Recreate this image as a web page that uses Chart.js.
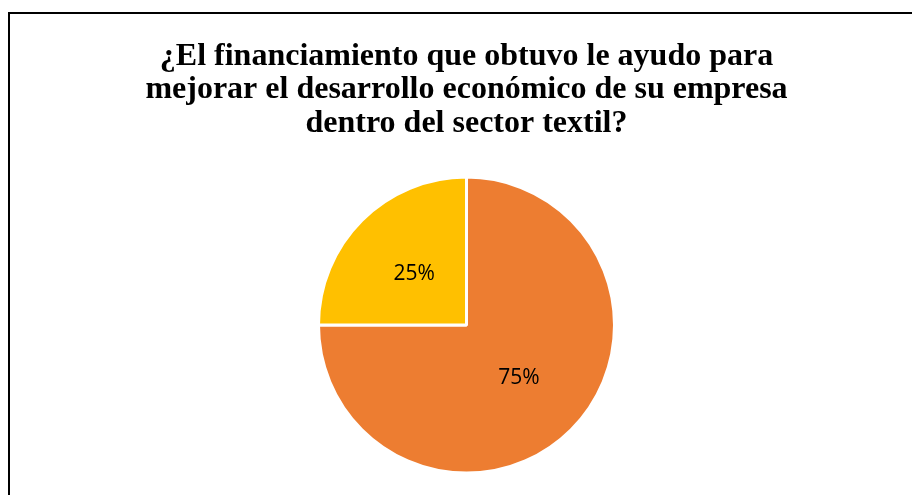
<!DOCTYPE html>
<html>
<head>
<meta charset="utf-8">
<script src="https://cdn.jsdelivr.net/npm/chart.js@4/dist/chart.umd.min.js"></script>
<style>
  html, body { margin: 0; padding: 0; background: #fff; overflow: hidden; }
  #wrap { position: relative; width: 912px; height: 495px; }
  #frame { position: absolute; left: 8px; top: 12px; width: 1000px; height: 600px;
           border-left: 2px solid #000; border-top: 2px solid #000; box-sizing: border-box; pointer-events: none; }
  canvas { position: absolute; left: 0; top: 0; }
</style>
</head>
<body>
<div id="wrap">
  <canvas id="c" width="912" height="495"></canvas>
  <div id="frame"></div>
</div>
<script>
const titleLines = [
  "¿El financiamiento que obtuvo le ayudo para",
  "mejorar el desarrollo económico de su empresa",
  "dentro del sector textil?"
];
const categories = ["Sí", "No"];
const values = [75, 25];
const colors = ["#ED7D31", "#FFC000"];

const pctLabels = {
  id: "pctLabels",
  afterDatasetsDraw(chart) {
    const ctx = chart.ctx;
    const ds = chart.data.datasets[0];
    const total = ds.data.reduce((a, b) => a + b, 0);
    const meta = chart.getDatasetMeta(0);
    ctx.save();
    ctx.font = "21px 'Open Sans'";
    ctx.fillStyle = "#000";
    ctx.textAlign = "center";
    ctx.textBaseline = "middle";
    meta.data.forEach((arc, i) => {
      const p = arc.tooltipPosition();
      const pct = Math.round(ds.data[i] / total * 100) + "%";
      ctx.fillText(pct, p.x, p.y + 1);
    });
    ctx.restore();
  }
};

new Chart(document.getElementById("c"), {
  type: "pie",
  data: {
    labels: categories,
    datasets: [{
      data: values,
      backgroundColor: colors,
      borderColor: "#ffffff",
      borderWidth: 3,
      radius: 148
    }]
  },
  options: {
    responsive: false,
    animation: false,
    layout: { padding: { left: 21, right: 0, top: 0, bottom: 1 } },
    plugins: {
      legend: { display: false },
      tooltip: { enabled: false },
      title: {
        display: true,
        text: titleLines,
        color: "#000",
        font: { family: "'Liberation Serif'", size: 32, weight: "bold", lineHeight: 1.044 },
        padding: { top: 40, bottom: 16 }
      }
    }
  },
  plugins: [pctLabels]
});
</script>
</body>
</html>
